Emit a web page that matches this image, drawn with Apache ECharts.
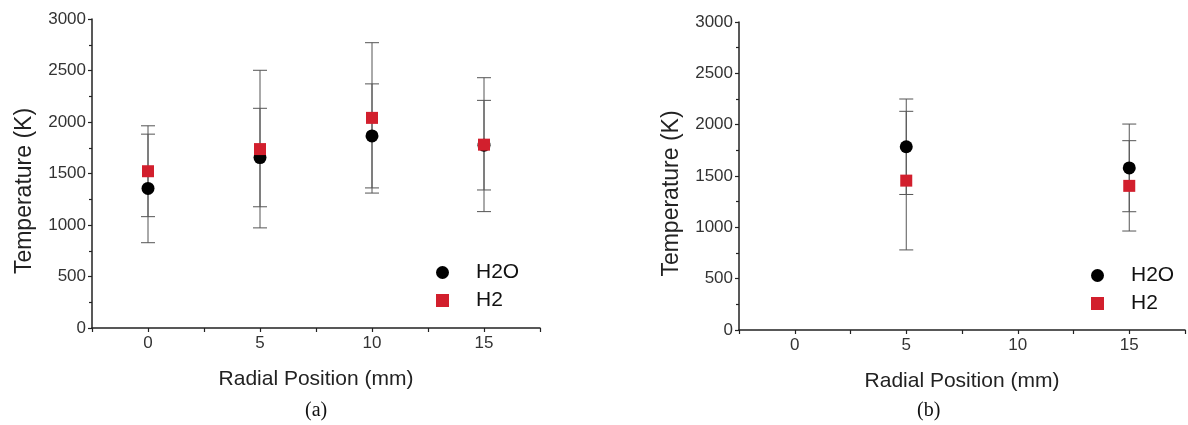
<!DOCTYPE html>
<html>
<head>
<meta charset="utf-8">
<script src="https://cdn.jsdelivr.net/npm/echarts@6/dist/echarts.min.js"></script>
<style>html,body{margin:0;padding:0;background:#fff}#c{width:1188px;height:425px}</style>
</head>
<body>
<div id="c"></div>
<script>
// ---- data (a) ----
const xA = [0, 5, 10, 15];
const h2oA = [1355, 1655, 1865, 1775];
const h2oErrA = [527, 478, 505, 435];
const h2A = [1522, 1737, 2040, 1780];
const h2ErrA = [441, 765, 730, 650];
// ---- data (b) ----
const xB = [5, 15];
const h2oB = [1785, 1579];
const h2oErrB = [465, 427];
const h2B = [1455, 1404];
const h2ErrB = [675, 440];
// ---- axis ticks ----
const xTickValues = [0, 5, 10, 15];
const yTicks = [0, 500, 1000, 1500, 2000, 2500, 3000];
const captions = ['(a)', '(b)'];

const FONT = 'Liberation Sans, Arial, sans-serif';
const RED = '#d21f2d';

function pts(xs, ys) { return xs.map((x, i) => [x, ys[i]]); }
function errs(xs, ys, es) { return xs.map((x, i) => [x, ys[i] - es[i], ys[i] + es[i]]); }

function errRender(params, api) {
  const x = api.value(0);
  const lo = api.coord([x, api.value(1)]);
  const hi = api.coord([x, api.value(2)]);
  const w = 7;
  const st = { stroke: '#555', lineWidth: 1 };
  return {
    type: 'group',
    children: [
      { type: 'line', shape: { x1: lo[0], y1: lo[1], x2: hi[0], y2: hi[1] }, style: st },
      { type: 'line', shape: { x1: lo[0] - w, y1: lo[1], x2: lo[0] + w, y2: lo[1] }, style: st },
      { type: 'line', shape: { x1: hi[0] - w, y1: hi[1], x2: hi[0] + w, y2: hi[1] }, style: st }
    ]
  };
}

function xAxisOpt(gi) {
  return {
    gridIndex: gi, type: 'value', min: -2.5, max: 17.5, interval: 2.5,
    name: 'Radial Position (mm)', nameLocation: 'middle', nameGap: 41,
    nameTextStyle: { fontFamily: FONT, fontSize: 21, color: '#222' },
    axisLine: { show: true, onZero: false, lineStyle: { color: '#222', width: 1.5 } },
    axisTick: { show: true, inside: false, length: 4, lineStyle: { color: '#222', width: 1.2 } },
    axisLabel: {
      fontFamily: FONT, fontSize: 17, color: '#333', margin: 7,
      formatter: v => (xTickValues.indexOf(v) >= 0 ? String(v) : ''),
      showMinLabel: true, showMaxLabel: true
    },
    splitLine: { show: false }
  };
}
function yAxisOpt(gi) {
  return {
    gridIndex: gi, type: 'value', min: yTicks[0], max: yTicks[yTicks.length - 1], interval: 500,
    name: 'Temperature (K)', nameLocation: 'middle', nameGap: 56,
    nameTextStyle: { fontFamily: FONT, fontSize: 23, color: '#222', padding: [0, 35, 0, 0] },
    axisLine: { show: true, onZero: false, lineStyle: { color: '#222', width: 1.5 } },
    axisTick: { show: true, length: 4, lineStyle: { color: '#222', width: 1.2 } },
    minorTick: { show: true, splitNumber: 2, length: 3, lineStyle: { color: '#222', width: 1.2 } },
    axisLabel: { fontFamily: FONT, fontSize: 17, color: '#333', margin: 6, formatter: v => String(v) },
    splitLine: { show: false }
  };
}

function legendOpt(left, top) {
  return {
    orient: 'vertical', left: left, top: top,
    itemWidth: 13, itemHeight: 13, itemGap: 5,
    data: [{ name: 'H2O', icon: 'circle' }, { name: 'H2', icon: 'rect' }],
    textStyle: { fontFamily: FONT, fontSize: 21, color: '#111', lineHeight: 23, padding: [0, 0, 0, 22] },
    selectedMode: false
  };
}

const option = {
  backgroundColor: '#fff',
  animation: false,
  grid: [
    { left: 92, top: 19, width: 448, height: 309 },
    { left: 739, top: 22, width: 449, height: 308 }
  ],
  xAxis: [xAxisOpt(0), xAxisOpt(1)],
  yAxis: [yAxisOpt(0), yAxisOpt(1)],
  legend: [legendOpt(431, 256), legendOpt(1086, 259)],
  graphic: [
    { type: 'text', left: 305, top: 401, style: { text: captions[0], font: '20px "Liberation Serif", "Times New Roman", serif', fill: '#111' } },
    { type: 'text', left: 917, top: 401, style: { text: captions[1], font: '20px "Liberation Serif", "Times New Roman", serif', fill: '#111' } }
  ],
  series: [
    { type: 'custom', xAxisIndex: 0, yAxisIndex: 0, renderItem: errRender, data: errs(xA, h2oA, h2oErrA), encode: { x: 0, y: [1, 2] }, z: 1, silent: true },
    { type: 'custom', xAxisIndex: 0, yAxisIndex: 0, renderItem: errRender, data: errs(xA, h2A, h2ErrA), encode: { x: 0, y: [1, 2] }, z: 1, silent: true },
    { type: 'custom', xAxisIndex: 1, yAxisIndex: 1, renderItem: errRender, data: errs(xB, h2oB, h2oErrB), encode: { x: 0, y: [1, 2] }, z: 1, silent: true },
    { type: 'custom', xAxisIndex: 1, yAxisIndex: 1, renderItem: errRender, data: errs(xB, h2B, h2ErrB), encode: { x: 0, y: [1, 2] }, z: 1, silent: true },
    { name: 'H2O', type: 'scatter', xAxisIndex: 0, yAxisIndex: 0, symbol: 'circle', symbolSize: 13, itemStyle: { color: '#000', opacity: 1 }, data: pts(xA, h2oA), z: 3 },
    { name: 'H2', type: 'scatter', xAxisIndex: 0, yAxisIndex: 0, symbol: 'rect', symbolSize: 12, itemStyle: { color: RED, opacity: 1 }, data: pts(xA, h2A), z: 4 },
    { name: 'H2O', type: 'scatter', xAxisIndex: 1, yAxisIndex: 1, symbol: 'circle', symbolSize: 13, itemStyle: { color: '#000', opacity: 1 }, data: pts(xB, h2oB), z: 3 },
    { name: 'H2', type: 'scatter', xAxisIndex: 1, yAxisIndex: 1, symbol: 'rect', symbolSize: 12, itemStyle: { color: RED, opacity: 1 }, data: pts(xB, h2B), z: 4 }
  ]
};

const chart = echarts.init(document.getElementById('c'), null, { renderer: 'canvas' });
chart.setOption(option);
</script>
</body>
</html>
